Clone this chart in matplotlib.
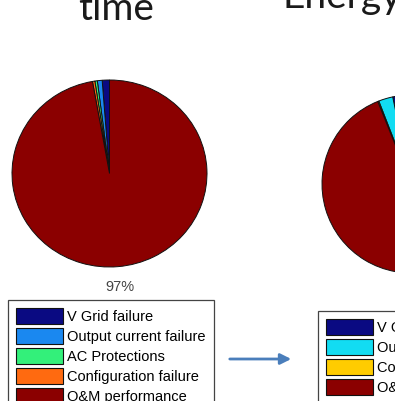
import matplotlib.pyplot as plt
from matplotlib.patches import Patch, FancyArrowPatch

W, H = 395, 401

# failure shares (percent) before and after
causes_before = ['V Grid failure', 'Output current failure', 'AC Protections',
                 'Configuration failure', 'O&M performance']
share_before = [1.2, 0.8, 0.4, 0.4, 97.2]
colors_before = ['#0a0a82', '#1a88f0', '#33f07a', '#ff6a10', '#8b0000']

causes_after = ['V Grid failure', 'Output current failure',
                'Configuration failure', 'O&M performance']
share_after = [3.3, 2.6, 0.2, 93.9]
colors_after = ['#0a0a82', '#12dcf2', '#ffcc00', '#8b0000']


def px_axes(fig, left, top, right, bottom):
    # axes placed by pixel box (origin top-left)
    return fig.add_axes([left / W, 1 - bottom / H, (right - left) / W, (bottom - top) / H])


def pct_labels(vals):
    return ['%d%%' % round(v) if v > 5 else '' for v in vals]


fig = plt.figure(figsize=(W / 100, H / 100), dpi=100)
fig.patch.set_facecolor('white')

wedge_kw = {'edgecolor': '#111111', 'linewidth': 0.7}
text_kw = {'fontsize': 10.5, 'color': '#444444', 'family': 'Liberation Sans'}

ax1 = px_axes(fig, 12, 80, 207, 267)
_, lbl1 = ax1.pie(share_before, colors=colors_before, labels=pct_labels(share_before),
                  startangle=90, counterclock=True, labeldistance=1.22,
                  wedgeprops=wedge_kw, textprops=text_kw)
ax1.set_aspect('auto')
ax1.set_xlim(-1, 1)
ax1.set_ylim(-1, 1)
for t in lbl1:
    t.set_ha('center')
    t.set_clip_on(False)

ax2 = px_axes(fig, 322, 95, 500, 273)
_, lbl2 = ax2.pie(share_after, colors=colors_after, labels=pct_labels(share_after),
                  startangle=90, counterclock=True, labeldistance=1.22,
                  wedgeprops=wedge_kw, textprops=text_kw)
ax2.set_aspect('auto')
ax2.set_xlim(-1, 1)
ax2.set_ylim(-1, 1)
for t in lbl2:
    t.set_ha('center')

leg_kw = dict(loc='upper left', fancybox=False, framealpha=1, edgecolor='#444444',
              prop={'family': 'Liberation Sans', 'size': 10.5},
              handlelength=3.2, handleheight=1.3, handletextpad=0.3,
              labelspacing=0.28, borderpad=0.55, borderaxespad=0)

h1 = [Patch(facecolor=c, edgecolor='#111111', linewidth=0.8, label=l)
      for c, l in zip(colors_before, causes_before)]
leg1 = fig.legend(handles=h1, bbox_to_anchor=(8 / W, 1 - 300 / H), **leg_kw)
leg1.get_frame().set_linewidth(0.9)

h2 = [Patch(facecolor=c, edgecolor='#111111', linewidth=0.8, label=l)
      for c, l in zip(colors_after, causes_after)]
leg2 = fig.legend(handles=h2, bbox_to_anchor=(318 / W, 1 - 311 / H), **leg_kw)
leg2.get_frame().set_linewidth(0.9)

# slide titles
fig.text(116 / W, 1 - 20 / H, 'time', ha='center', va='baseline',
         fontsize=28, family='Lato', color='#1a1a1a')
fig.text(283 / W, 1 - 8 / H, 'Energy', ha='left', va='baseline',
         fontsize=28, family='Lato', color='#1a1a1a')

# arrow between the legends
fig.patches.append(FancyArrowPatch(
    (227 / W, 1 - 359 / H), (294 / W, 1 - 359 / H), transform=fig.transFigure,
    arrowstyle='-|>', mutation_scale=16, color='#4a7ebb', linewidth=2))

plt.savefig('out.png', dpi=100)
